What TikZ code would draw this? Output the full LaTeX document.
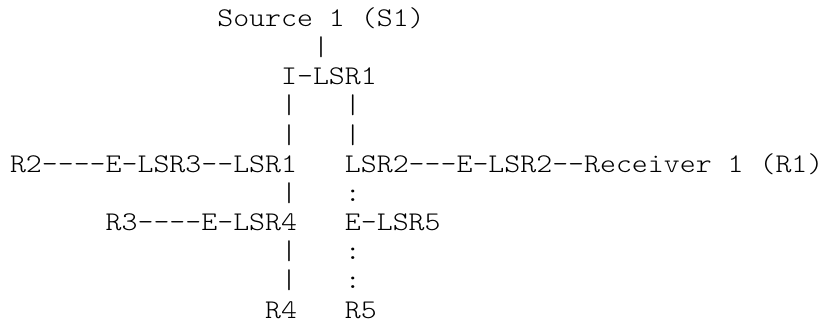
\documentclass[tikz,border=0pt]{standalone}
\usepackage{fontspec}
\newfontfamily\asciimono[FakeStretch=1.125]{Latin Modern Mono Light}
\begin{document}
\begin{tikzpicture}[
  txt/.style={anchor=base west, inner sep=0pt, outer sep=0pt,
    font=\asciimono\fontsize{27pt}{29.2pt}\selectfont, text=black}
]
\useasboundingbox (0pt,0pt) rectangle (825pt,-322pt);
\fill[white] (0pt,0pt) rectangle (825pt,-322pt);
\begin{scope}[shift={(10pt,-26.5pt)}, x=15.95pt, y=-29.15pt]
  % row 0
  \node[txt] (s1) at (13,0) {Source 1 (S1)};
  % row 1
  \node[txt] (p1) at (19,1) {|};
  % row 2
  \node[txt] (ilsr1) at (17,2) {I-LSR1};
  % rows 3-4
  \node[txt] (p2a) at (17,3) {|};
  \node[txt] (p2b) at (21,3) {|};
  \node[txt] (p3a) at (17,4) {|};
  \node[txt] (p3b) at (21,4) {|};
  % row 5
  \node[txt] (left5) at (0,5) {R2----E-LSR3--LSR1};
  \node[txt] (right5) at (21,5) {LSR2---E-LSR2--Receiver 1 (R1)};
  % row 6
  \node[txt] (p6a) at (17,6) {|};
  \node[txt] (c6b) at (21,6) {:};
  % row 7
  \node[txt] (left7) at (6,7) {R3----E-LSR4};
  \node[txt] (elsr5) at (21,7) {E-LSR5};
  % rows 8-9
  \node[txt] (p8a) at (17,8) {|};
  \node[txt] (c8b) at (21,8) {:};
  \node[txt] (p9a) at (17,9) {|};
  \node[txt] (c9b) at (21,9) {:};
  % row 10
  \node[txt] (r4) at (16,10) {R4};
  \node[txt] (r5) at (21,10) {R5};
\end{scope}
\end{tikzpicture}
\end{document}
